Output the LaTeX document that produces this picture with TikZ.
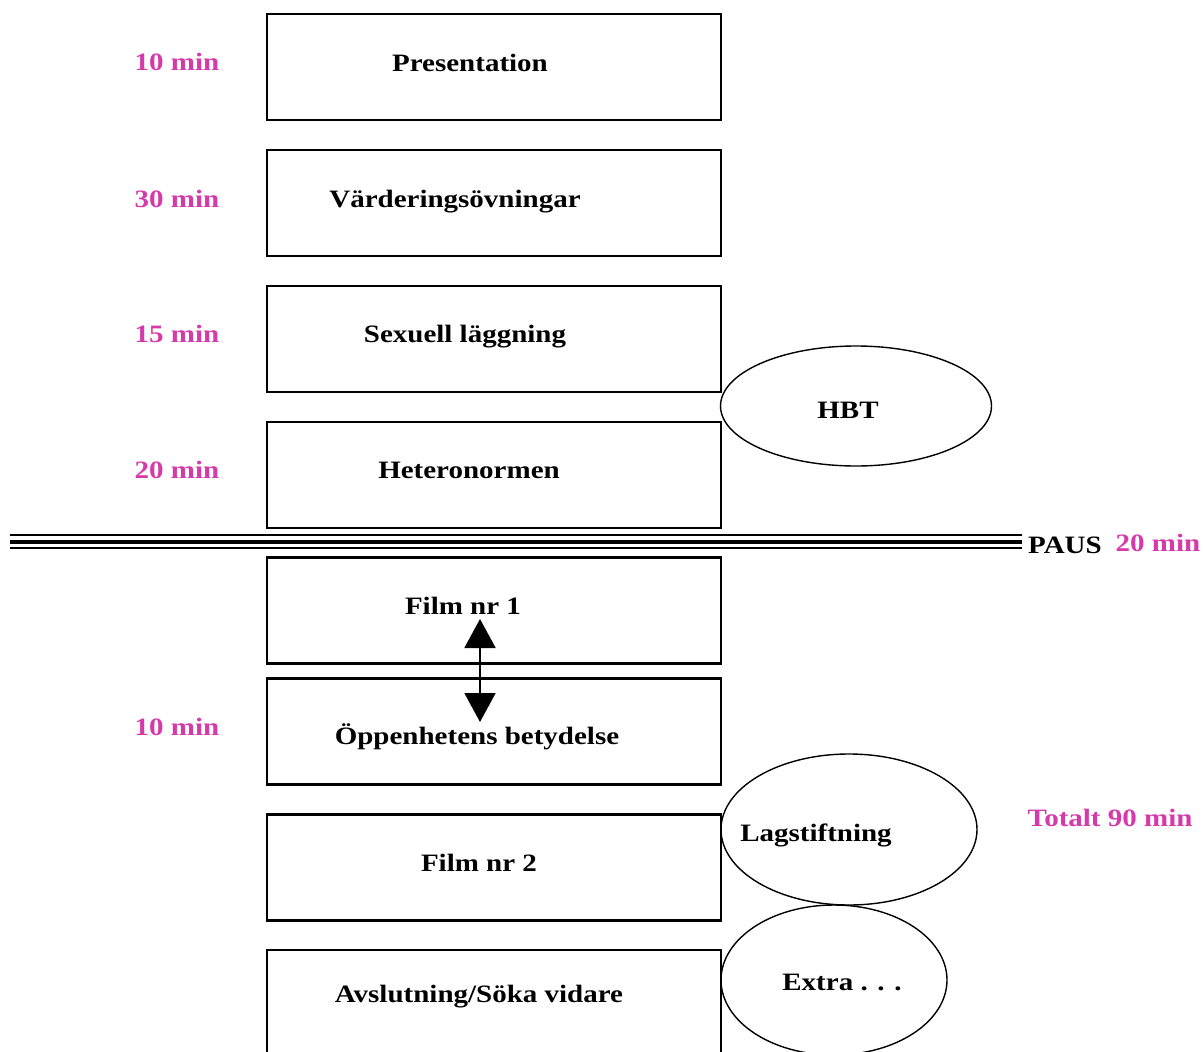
\documentclass[tikz,border=0pt]{standalone}
\usepackage{fontspec}
\setmainfont{Liberation Serif}[FakeStretch=1.16]
\usetikzlibrary{arrows.meta,shapes.geometric}
\definecolor{timepink}{RGB}{214,58,170}
\begin{document}
\begin{tikzpicture}[x=1pt,y=-1pt,
  every node/.style={font=\fontsize{25}{30}\selectfont\bfseries},
  stepbox/.style={draw,line width=2.4pt,minimum width=454pt,minimum height=106pt,inner sep=0pt},
  oval/.style={draw,ellipse,line width=1.4pt,inner sep=0pt},
  label text/.style={anchor=base,inner sep=0pt},
  timelabel/.style={label text,text=timepink}]
\useasboundingbox (0,0) rectangle (1203,1052);
\clip (0,0) rectangle (1203,1052);

% program steps
\node[stepbox] (b1) at (494,67) {};
\node[stepbox] (b2) at (494,203) {};
\node[stepbox] (b3) at (494,339) {};
\node[stepbox] (b4) at (494,475) {};
\node[stepbox] (b5) at (494,610.5) {};
\node[stepbox] (b6) at (494,731.5) {};
\node[stepbox] (b7) at (494,867.5) {};
\node[stepbox] (b8) at (494,1003) {};

\node[label text] (t1) at (470,71) {Presentation};
\node[label text] (t2) at (455,207) {Värderingsövningar};
\node[label text] (t3) at (465,342) {Sexuell läggning};
\node[label text] (t4) at (469,478) {Heteronormen};
\node[label text] (t5) at (463,614) {Film nr 1};
\node[label text] (t6) at (477,744) {Öppenhetens betydelse};
\node[label text] (t7) at (479,871) {Film nr 2};
\node[label text] (t8) at (479,1002) {Avslutning/Söka vidare};

% durations
\node[timelabel] (m1) at (177,70) {10 min};
\node[timelabel] (m2) at (177,207) {30 min};
\node[timelabel] (m3) at (177,342) {15 min};
\node[timelabel] (m4) at (177,478) {20 min};
\node[timelabel] (m6) at (177,735) {10 min};
\node[timelabel] (tot) at (1110,826) {Totalt 90 min};

% side topics
\node[oval,minimum width=271pt,minimum height=120pt] (hbt) at (856,406) {};
\node[label text] (hbtt) at (848,418) {HBT};
\node[oval,minimum width=256pt,minimum height=151pt] (lag) at (849,829.5) {};
\node[label text] (lagt) at (816,841) {Lagstiftning};
\node[oval,minimum width=226pt,minimum height=150pt] (ext) at (834,980) {};
\node[label text] (extt) at (842,990) {Extra . . .};

% break
\coordinate (pl) at (10,542);
\coordinate (pr) at (1022,542);
\draw[line width=2pt] ([yshift=-6pt]pl) -- ([yshift=-6pt]pr);
\draw[line width=4pt] (pl) -- (pr);
\draw[line width=2.3pt] ([yshift=7pt]pl) -- ([yshift=7pt]pr);
\node[label text,anchor=base west] (paus) at (1028,553) {PAUS};
\node[timelabel] (m5) at (1158,551) {20 min};

% link between the two film steps
\coordinate (a1) at (480,619);
\coordinate (a2) at (480,722);
\draw[line width=2pt,{Triangle[width=31pt,length=29pt]}-{Triangle[width=31pt,length=29pt]}] (a1) -- (a2);
\end{tikzpicture}
\end{document}
